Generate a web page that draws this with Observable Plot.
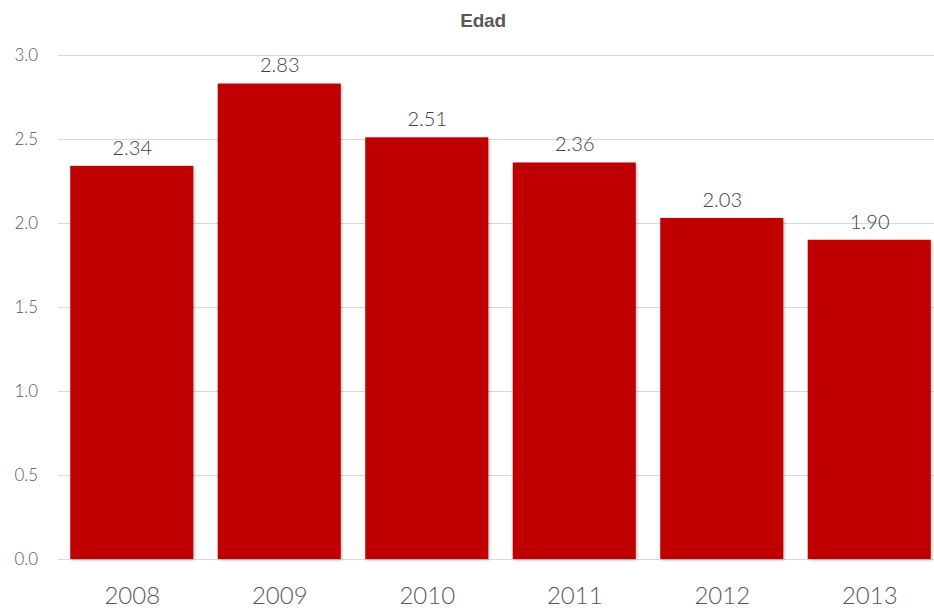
<!DOCTYPE html>
<html>
<head>
<meta charset="utf-8">
<script src="https://cdn.jsdelivr.net/npm/d3@7"></script>
<script src="https://cdn.jsdelivr.net/npm/@observablehq/plot@0.6"></script>
<style>
  html, body { margin: 0; padding: 0; background: #fff; overflow: hidden; }
  #wrap { position: relative; width: 934px; height: 608px; overflow: hidden; }
  #title { position: absolute; top: 10px; left: 0; width: 966px; text-align: center;
           font-family: "Liberation Sans", Arial, sans-serif; font-weight: bold; font-size: 19px;
           color: #595959; letter-spacing: -0.2px; }
  g[aria-label="bar"] rect { filter: drop-shadow(1px 1px 1.5px rgba(0,0,0,0.3)); }
</style>
</head>
<body>
<div id="wrap"><div id="title">Edad</div></div>
<script>
const years = ["2008", "2009", "2010", "2011", "2012", "2013"];
const values = [2.34, 2.83, 2.51, 2.36, 2.03, 1.90];
const yTicks = [0, 0.5, 1.0, 1.5, 2.0, 2.5, 3.0];

const data = years.map((y, i) => ({year: y, value: values[i]}));

const chart = Plot.plot({
  width: 934,
  height: 608,
  marginTop: 55,
  marginBottom: 49,
  marginLeft: 58,
  marginRight: 0,
  style: {fontFamily: "Lato, 'Open Sans', sans-serif", color: "#595959", background: "#fff", overflow: "hidden"},
  x: {domain: years, range: [58, 943], paddingInner: 0.166, paddingOuter: 0.083, round: false, label: null},
  y: {domain: [0, 3], label: null},
  marks: [
    Plot.ruleY(yTicks, {stroke: "#d9d9d9", strokeWidth: 1}),
    Plot.barY(data, {x: "year", y: "value", fill: "#C00000"}),
    Plot.text(data, {x: "year", y: "value", text: d => d.value.toFixed(2), dy: -18, fontSize: 20, fill: "#404040", fontWeight: 300}),
    Plot.axisY(yTicks, {tickSize: 0, tickPadding: 8, tickFormat: d => d.toFixed(1), fontSize: 17, fill: "#595959", dx: -36, textAnchor: "start", fontWeight: 300}),
    Plot.axisX({tickSize: 0, tickPadding: 0, fontSize: 24, fill: "#595959", dy: 27, fontWeight: 300})
  ]
});
document.getElementById("wrap").appendChild(chart);
</script>
</body>
</html>
